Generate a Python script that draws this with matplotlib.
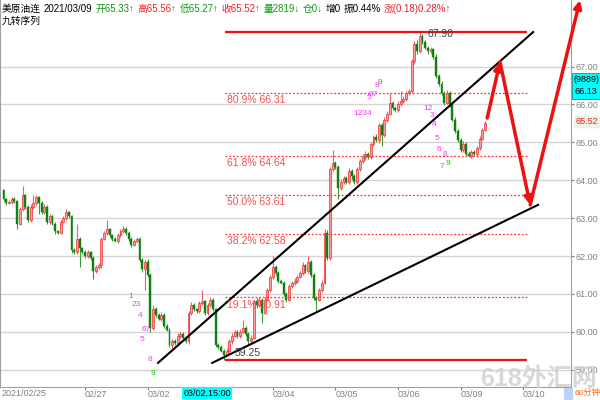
import numpy as np
import matplotlib
matplotlib.use("Agg")
import matplotlib.pyplot as plt

plt.rcParams["font.family"] = ["Liberation Sans", "Noto Sans CJK SC", "DejaVu Sans"]

# ---------------------------------------------------------
# data: 60-minute candles
# ---------------------------------------------------------
first_open = 63.75
closes = [
    63.50, 63.40, 63.42, 63.50, 63.45, 62.85, 63.25, 63.60, 63.30, 62.95,
    63.30, 63.40, 63.55, 63.40, 63.15, 63.30, 62.90, 63.05, 62.85, 62.65,
    62.62, 62.90, 63.00, 63.15, 63.05, 62.15, 62.10, 62.45, 62.20, 62.10,
    62.00, 62.10, 61.95, 61.60, 61.70, 61.75, 62.45, 62.60, 62.70, 62.55,
    62.45, 62.40, 62.55, 62.65, 62.72, 62.60, 62.45, 62.30, 62.40, 62.45,
    61.90, 61.65, 61.85, 61.50, 60.10, 60.60, 60.45, 60.35, 60.45, 60.15,
    60.05, 59.65, 59.75, 59.70, 59.90, 59.95, 59.85, 59.75, 60.50, 60.70,
    60.60, 60.55, 60.75, 60.80, 60.50, 60.70, 60.85, 60.60, 59.65, 59.60,
    59.50, 59.40, 59.50, 59.75, 59.90, 60.00, 59.90, 60.00, 60.10, 59.95,
    59.75, 59.85, 60.80, 60.70, 60.85, 60.50, 60.85, 61.10, 61.45, 61.70,
    61.55, 61.35, 61.30, 61.00, 60.85, 61.20, 61.30, 61.35, 61.45, 61.55,
    61.75, 61.60, 61.85, 61.50, 60.90, 60.85, 61.10, 61.30, 62.60, 61.95,
    64.30, 64.45, 64.35, 63.80, 63.95, 64.05, 63.95, 64.25, 64.10, 63.95,
    64.30, 64.50, 64.60, 64.70, 64.60, 64.95, 65.15, 65.05, 65.45, 65.20,
    65.60, 65.75, 66.05, 65.90, 65.85, 66.00, 66.10, 66.15, 66.30, 66.35,
    67.15, 67.60, 67.40, 67.80, 67.65, 67.50, 67.40, 67.45, 67.25, 66.75,
    66.55, 66.30, 66.05, 66.30, 66.00, 65.60, 65.30, 65.05, 64.80, 64.95,
    64.70, 64.65, 64.75, 64.68, 64.85, 65.10, 65.33, 65.52,
]
# shadows in hundredths of a dollar
upper_wick = [
    3, 4, 5, 6, 5, 4, 5, 25, 4, 5, 6, 20, 5, 4, 5, 6, 4, 6, 4, 5,
    4, 6, 5, 10, 5, 4, 5, 40, 5, 4, 5, 6, 4, 5, 5, 6, 4, 5, 25, 5,
    4, 5, 6, 5, 6, 4, 5, 4, 6, 5, 4, 5, 5, 8, 4, 10, 5, 4, 6, 4,
    5, 4, 6, 5, 8, 5, 4, 5, 6, 8, 5, 4, 6, 30, 5, 6, 8, 5, 4, 5,
    4, 5, 6, 5, 6, 5, 6, 8, 20, 5, 4, 6, 5, 8, 6, 5, 8, 6, 5, 30,
    6, 5, 4, 5, 4, 6, 5, 6, 5, 6, 8, 5, 15, 5, 4, 5, 6, 8, 10, 8,
    5, 35, 6, 5, 8, 6, 5, 8, 5, 6, 5, 6, 8, 6, 5, 6, 5, 8, 6, 5,
    6, 8, 25, 5, 6, 8, 25, 6, 5, 6, 5, 8, 10, 10, 5, 6, 5, 6, 5, 8,
    5, 6, 5, 8, 6, 5, 6, 5, 6, 8, 5, 6, 5, 6, 5, 6, 5, 4,
]
lower_wick = [
    4, 5, 4, 6, 5, 15, 4, 5, 6, 5, 4, 5, 6, 30, 5, 4, 6, 5, 4, 6,
    5, 5, 4, 5, 6, 8, 5, 4, 50, 5, 4, 6, 5, 20, 4, 5, 6, 4, 5, 6,
    5, 4, 6, 5, 4, 5, 6, 5, 4, 6, 5, 6, 55, 5, 10, 6, 5, 4, 6, 5,
    4, 6, 10, 5, 4, 6, 5, 4, 6, 5, 4, 6, 5, 4, 6, 5, 4, 6, 6, 5,
    4, 15, 4, 5, 6, 4, 5, 6, 4, 5, 6, 5, 4, 6, 5, 27, 4, 5, 6, 5,
    6, 5, 4, 6, 6, 5, 4, 6, 5, 4, 5, 6, 4, 5, 6, 30, 5, 6, 5, 6,
    5, 6, 5, 30, 6, 5, 6, 5, 6, 5, 6, 5, 4, 6, 5, 4, 6, 5, 6, 30,
    5, 6, 4, 5, 6, 5, 4, 6, 5, 4, 6, 8, 6, 5, 6, 5, 6, 5, 6, 5,
    6, 5, 6, 5, 6, 5, 6, 5, 6, 5, 6, 5, 6, 5, 6, 5, 4, 4,
]

# x axis: candle index of each day label
date_ticks = [30, 53, 99, 122, 145, 168, 191]
date_labels = ["02/27", "03/02", "03/04", "03/05", "03/06", "03/09", "03/10"]
price_ticks = [59, 60, 61, 62, 63, 64, 65, 66, 67]

# golden section levels drawn between the swing low and high
swing_high = 67.90
swing_low = 59.25
fib_levels = [66.31, 64.64, 63.61, 62.58, 60.91]
fib_names = ["80.9% 66.31", "61.8% 64.64", "50.0% 63.61", "38.2% 62.58", "19.1% 60.91"]
fib_span = [81.4, 192.5]

# hand drawn trend lines: (x0, y0, x1, y1) in candle index / price
trend_lines = [
    (56.8, 59.18, 194.7, 67.91),
    (76.7, 59.18, 196.5, 63.35),
]
# red forecast arrows
arrow_path_x = [177.8, 182.5, 193.6, 211.9]
arrow_path_y = [65.64, 67.12, 63.35, 68.75]

# TD sequence counts (nine turns)
td_x = [46.9, 48.7, 50.2, 50.9, 52.4, 53.9, 55.0,
        132.2, 134.4, 135.9, 137.3, 138.4,
        156.1, 157.5, 158.3, 159.4, 160.1, 161.2, 162.3, 163.4]
td_y = [60.94, 60.71, 60.42, 59.81, 60.05, 59.28, 58.91,
        65.75, 66.17, 66.27, 66.51, 66.59,
        65.88, 65.72, 65.48, 65.09, 64.80, 64.37, 64.69, 64.45]
td_txt = ["1", "23", "4", "5", "67", "8", "9",
          "1234", "5", "67", "8", "9",
          "12", "3", "4", "5", "6", "7", "8", "9"]

# header quote strip
header_txt = ["美原油连", "2021/03/09", "开65.33↑", "高65.56↑", "低65.27↑", "收65.52↑",
              "量2819↓", "仓0↓", "增0", "振0.44%", "涨(0.18)0.28%↑"]
header_col = ["black", "black", "#119911", "#ee2222", "#119911", "#ee2222",
              "#119911", "#119911", "black", "black", "#ee2222"]

# ---------------------------------------------------------
fig = plt.figure(figsize=(6, 4), dpi=100)
ax = fig.add_axes([0, 13 / 400, 571 / 600, 387 / 400])
ax.set_xlim(-1.29, 208.6)
ax.set_ylim(58.544, 68.755)

for p in price_ticks:
    ax.axhline(p, color="#d4d4d4", lw=1, zorder=0)

closes = np.array(closes)
opens = np.concatenate([[first_open], closes[:-1]])
idx = np.arange(len(closes))
top = np.maximum(opens, closes)
bot = np.minimum(opens, closes)
highs = top + np.array(upper_wick) / 100
lows = bot - np.array(lower_wick) / 100
up = closes >= opens

ax.vlines(idx[up], lows[up], highs[up], color="#f06060", lw=0.8, zorder=2)
ax.vlines(idx[~up], lows[~up], highs[~up], color="#3a9a3a", lw=0.8, zorder=2)
ax.bar(idx[up], np.maximum(top - bot, 0.02)[up], 0.7, bot[up],
       color="#ff9a9a", edgecolor="#f03030", linewidth=0.5, zorder=3)
ax.bar(idx[~up], np.maximum(top - bot, 0.02)[~up], 0.7, bot[~up],
       color="#108010", edgecolor="#108010", linewidth=0.3, zorder=3)

# swing lines and golden section
ax.hlines([swing_high, swing_low], fib_span[0], fib_span[1], color="#ee1111", lw=1.6, zorder=4)
ax.hlines(fib_levels, fib_span[0], fib_span[1], color="#ff3333", lw=0.9,
          linestyles=(0, (1.5, 1.5)), zorder=4)
for lvl, name in zip(fib_levels, fib_names):
    ax.text(fib_span[0] + 0.6, lvl - 0.06, name, color="#f05050", fontsize=7.5,
            va="top", ha="left", zorder=6)
ax.text(160.5, swing_high - 0.03, "67.90", color="#404040", fontsize=7.5, ha="center", va="center", zorder=6)
ax.text(85.0, swing_low + 0.06, "59.25", color="#404040", fontsize=7.5, ha="left", va="bottom", zorder=6)

for x0, y0, x1, y1 in trend_lines:
    ax.plot([x0, x1], [y0, y1], color="black", lw=1.5, zorder=5)

for k in range(len(arrow_path_x) - 1):
    ax.annotate("", xy=(arrow_path_x[k + 1], arrow_path_y[k + 1]),
                xytext=(arrow_path_x[k], arrow_path_y[k]),
                arrowprops=dict(arrowstyle="-|>", color="#ee1111", lw=2.5,
                                mutation_scale=11, shrinkA=0, shrinkB=0),
                annotation_clip=False, zorder=7)

for x, y, t in zip(td_x, td_y, td_txt):
    ax.text(x, y, t, color="#00cc00" if t == "9" else "#ff30ff", fontsize=6,
            ha="center", va="center", zorder=6)

# axes styling
ax.spines["top"].set_visible(False)
for side in ["left", "right", "bottom"]:
    ax.spines[side].set_color("#a0a0a0")
ax.yaxis.tick_right()
ax.set_yticks(price_ticks)
ax.set_yticklabels([f"{p:.2f}" for p in price_ticks])
ax.tick_params(axis="y", colors="#808080", labelsize=6.5, length=2, pad=1.5)
ax.set_xticks(date_ticks)
ax.set_xticklabels(date_labels)
ax.tick_params(axis="x", colors="#808080", labelsize=6.5, length=2, pad=0.5)
for lab in ax.get_xticklabels():
    lab.set_ha("left")
ax.text(0.002, -0.006, "2021/02/25", transform=ax.transAxes, fontsize=6.5, color="#808080",
        ha="left", va="top")

# crosshair date box
fig.text(207 / 600, 1 - 393 / 400, "03/02,15:00", fontsize=6.5, ha="center", va="center", color="black",
         bbox=dict(boxstyle="square,pad=0.15", fc="#00ffff", ec="none"))

# right side price flags
fig.patches.append(plt.Rectangle((572 / 600, 1 - 99 / 400), 28 / 600, 26 / 400,
                                 transform=fig.transFigure, fc="#00ffff", ec="#008080", lw=0.5, zorder=0))
fig.text(586 / 600, 1 - 80 / 400, "(9889)", fontsize=6.5, ha="center", va="center", color="black")
fig.text(586 / 600, 1 - 92 / 400, "66.13", fontsize=6.5, ha="center", va="center", color="black")
fig.text(587 / 600, 1 - 122 / 400, "65.52", fontsize=6.5, ha="center", va="center", color="#ee2222",
         bbox=dict(boxstyle="round,pad=0.2", fc="#e8f2e8", ec="none"))

# watermark and period label
fig.text(480 / 600, 1 - 391 / 400, "618外汇网", fontsize=18, fontweight="bold", color="#cfcfcf",
         alpha=0.8, ha="left", va="bottom", zorder=1)
fig.patches.append(plt.Rectangle((564 / 600, 0), 9 / 600, 12 / 400, transform=fig.transFigure,
                                 fc="#b8d4f0", ec="none"))
fig.text(575 / 600, 1 - 393 / 400, "60分钟", fontsize=6, color="#ff6600", ha="left", va="center", zorder=5)

# header line, laid out left to right
renderer = fig.canvas.get_renderer()
x_px = 2
for t, c in zip(header_txt, header_col):
    txt = fig.text(x_px / 600, 1 - 9 / 400, t, fontsize=7, color=c, ha="left", va="center")
    x_px += txt.get_window_extent(renderer).width + 3
fig.text(2 / 600, 1 - 21 / 400, "九转序列", fontsize=7, color="black", ha="left", va="center")

fig.savefig("out.png", dpi=100)
